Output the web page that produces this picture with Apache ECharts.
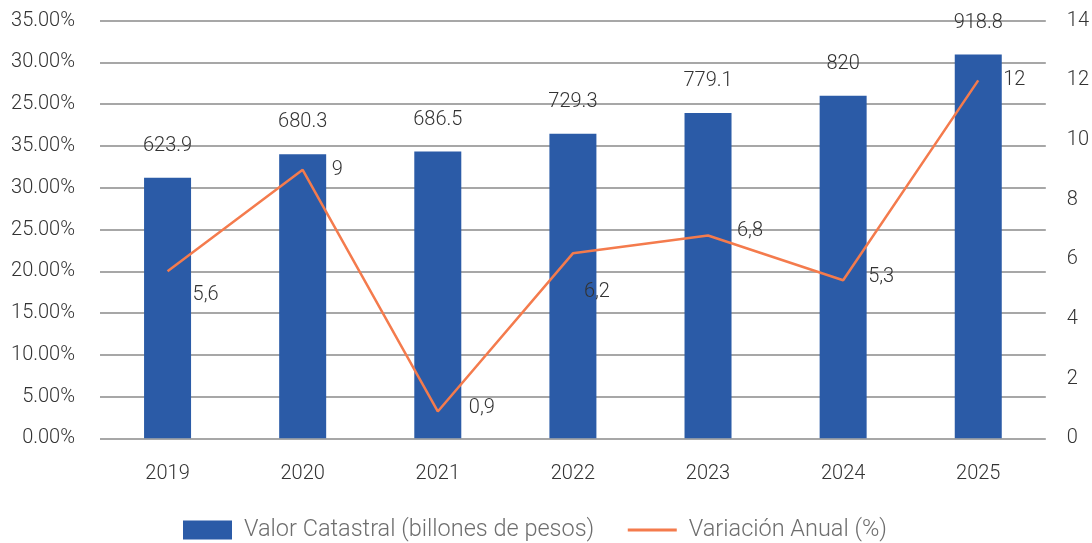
<!DOCTYPE html>
<html>
<head>
<meta charset="utf-8">
<script src="https://cdn.jsdelivr.net/npm/echarts@6/dist/echarts.min.js"></script>
<style>
  html, body { margin: 0; padding: 0; background: #ffffff; }
  #chart { width: 1092px; height: 543px; }
</style>
</head>
<body>
<div id="chart"></div>
<script>
// Años
const years = ['2019', '2020', '2021', '2022', '2023', '2024', '2025'];
// Valor catastral (billones de pesos)
const valorCatastral = [623.9, 680.3, 686.5, 729.3, 779.1, 820, 918.8];
// Variación anual (%)
const variacionAnual = [5.6, 9, 0.9, 6.2, 6.8, 5.3, 12];
// Etiquetas del eje izquierdo, de abajo hacia arriba
const leftTickLabels = ['0.00%', '5.00%', '10.00%', '15.00%', '20.00%', '25.00%', '30.00%', '35.00%', '25.00%', '30.00%', '35.00%'];
// Etiquetas del eje derecho
const rightTickLabels = ['0', '2', '4', '6', '8', '10', '12', '14'];

const FONT = 'Roboto, "Noto Sans", sans-serif';
const TEXT = '#333333';
const BAR_COLOR = '#2b5ba7';
const LINE_COLOR = '#f47b4d';

// Desplazamiento individual de las etiquetas de la línea
const lineLabelOffsets = [[0, 24], [4, 0], [6, -3], [-14, 39], [4, -4], [0, -3], [0, 0]];

const chart = echarts.init(document.getElementById('chart'), null, { renderer: 'canvas' });

chart.setOption({
  animation: false,
  backgroundColor: '#ffffff',
  textStyle: { fontFamily: FONT },
  grid: { left: 100, right: 45, top: 20.7, bottom: 104.7, containLabel: false },
  legend: {
    top: 513,
    left: 178,
    itemWidth: 49,
    itemHeight: 19,
    itemGap: 32,
    textStyle: { fontFamily: FONT, fontSize: 23.5, fontWeight: 300, color: '#6e6e6e', padding: [0, 0, 0, 7] },
    data: [
      { name: 'Valor Catastral (billones de pesos)', icon: 'rect' },
      { name: 'Variación Anual (%)', itemStyle: { opacity: 0 }, lineStyle: { width: 3 } }
    ]
  },
  xAxis: {
    type: 'category',
    data: years,
    axisTick: { show: false },
    axisLine: { show: false },
    axisLabel: { color: TEXT, fontSize: 20, fontWeight: 300, fontFamily: FONT, margin: 26 }
  },
  yAxis: [
    {
      type: 'value',
      min: 0,
      max: 1000,
      interval: 100,
      axisLine: { show: false },
      axisTick: { show: false },
      splitLine: { lineStyle: { color: '#8a8a8a', width: 1.5 } },
      axisLabel: {
        color: TEXT, fontSize: 20, fontWeight: 300, fontFamily: FONT, margin: 25,
        formatter: (v) => leftTickLabels[Math.round(v / 100)]
      }
    },
    {
      type: 'value',
      min: 0,
      max: 14,
      interval: 2,
      position: 'right',
      axisLine: { show: false },
      axisTick: { show: false },
      splitLine: { show: false },
      axisLabel: {
        color: TEXT, fontSize: 20, fontWeight: 300, fontFamily: FONT, margin: 21,
        formatter: (v) => rightTickLabels[Math.round(v / 2)]
      }
    }
  ],
  series: [
    {
      name: 'Valor Catastral (billones de pesos)',
      type: 'bar',
      yAxisIndex: 0,
      barWidth: 47,
      data: valorCatastral,
      itemStyle: { color: BAR_COLOR },
      label: {
        show: true,
        position: 'top',
        distance: 22,
        color: TEXT,
        fontSize: 20,
        fontWeight: 300,
        fontFamily: FONT,
        formatter: (p) => String(p.value)
      }
    },
    {
      name: 'Variación Anual (%)',
      type: 'line',
      yAxisIndex: 1,
      symbol: 'circle',
      symbolSize: 0,
      lineStyle: { color: LINE_COLOR, width: 2.5 },
      itemStyle: { color: LINE_COLOR },
      z: 5,
      data: variacionAnual.map((v, i) => ({
        value: v,
        label: { offset: lineLabelOffsets[i] }
      })),
      label: {
        show: true,
        position: 'right',
        distance: 25,
        color: TEXT,
        fontSize: 20,
        fontWeight: 300,
        fontFamily: FONT,
        formatter: (p) => String(p.value).replace('.', ',')
      }
    }
  ]
});
</script>
</body>
</html>
